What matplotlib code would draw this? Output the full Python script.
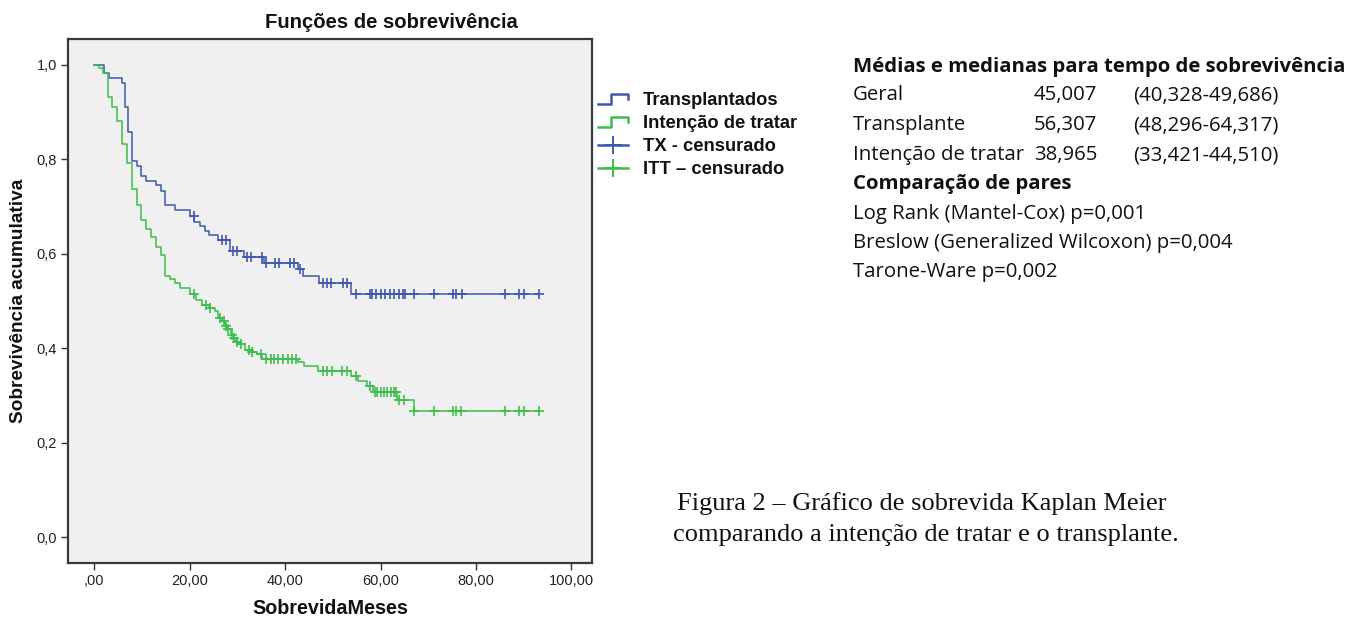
import numpy as np
import matplotlib
matplotlib.use("Agg")
import matplotlib.pyplot as plt
from matplotlib.lines import Line2D
from matplotlib.legend_handler import HandlerBase

plt.rcParams["font.family"] = ["Liberation Sans", "DejaVu Sans"]

# ---------------- data ----------------
tx_times = [0, 1.97, 3.04, 5.73, 6.44, 7.15, 8.0, 8.9, 9.9, 10.8, 12.95, 14.0, 14.9, 17.0,
            20.0, 21.0, 22.1, 23.2, 24.1, 26.0, 28.5, 31.3, 35.6, 42.6, 43.7, 47.1, 53.9]
tx_surv = [1.0, 0.983, 0.972, 0.961, 0.912, 0.857, 0.796, 0.785, 0.765, 0.754, 0.745, 0.734,
           0.703, 0.692, 0.681, 0.668, 0.659, 0.648, 0.639, 0.629, 0.606, 0.594, 0.581, 0.567,
           0.553, 0.539, 0.515]
tx_censored = [20.8, 26.7, 27.6, 29.0, 30.0, 32.0, 32.9, 35.1, 35.9, 37.9, 38.8, 41.0, 41.9,
               43.1, 47.9, 48.8, 49.7, 52.2, 53.0, 54.9, 57.8, 58.2, 59.1, 60.1, 61.0, 61.9,
               62.9, 63.9, 64.6, 65.1, 67.0, 71.1, 75.2, 75.9, 77.0, 86.1, 89.0, 90.0, 93.2]

itt_times = [0, 0.92, 1.8, 2.9, 3.75, 4.8, 5.75, 6.95, 8.0, 8.9, 9.9, 10.8, 11.9, 12.95, 14.0,
             14.8, 15.9, 16.9, 17.9, 20.0, 21.4, 22.5, 24.0, 25.3, 26.0, 26.8, 27.4, 27.9,
             28.6, 29.1, 29.6, 30.4, 31.5, 32.8, 34.0, 35.2, 42.6, 44.0, 46.9, 53.9, 55.3,
             57.1, 58.5, 63.5, 67.0]
itt_surv = [1.0, 0.994, 0.982, 0.933, 0.910, 0.882, 0.832, 0.793, 0.738, 0.703, 0.672, 0.652,
            0.636, 0.615, 0.597, 0.554, 0.547, 0.538, 0.527, 0.514, 0.503, 0.492, 0.485, 0.478,
            0.464, 0.457, 0.447, 0.440, 0.429, 0.422, 0.413, 0.408, 0.397, 0.392, 0.387, 0.377,
            0.370, 0.362, 0.352, 0.341, 0.330, 0.320, 0.307, 0.291, 0.267]
itt_censored = [20.9, 23.5, 24.3, 26.4, 27.1, 27.6, 28.1, 28.8, 29.3, 29.9, 30.8, 32.4, 33.1,
                34.9, 35.9, 37.0, 37.7, 38.4, 39.5, 40.5, 41.4, 42.2, 47.9, 48.8, 49.9, 52.0,
                52.9, 54.9, 57.7, 58.9, 59.3, 60.0, 60.7, 61.4, 62.1, 62.8, 63.3, 63.9, 64.9,
                67.0, 71.1, 75.2, 75.9, 76.9, 86.1, 88.9, 90.0, 93.2]

x_ticks = [0, 20, 40, 60, 80, 100]
x_ticklabels = [",00", "20,00", "40,00", "60,00", "80,00", "100,00"]
y_ticks = [0.0, 0.2, 0.4, 0.6, 0.8, 1.0]
y_ticklabels = ["0,0", "0,2", "0,4", "0,6", "0,8", "1,0"]

legend_labels = ["Transplantados", "Intenção de tratar", "TX - censurado", "ITT – censurado"]

table_header = "Médias e medianas para tempo de sobrevivência"
table_rows = ["Geral", "Transplante", "Intenção de tratar"]
table_means = ["45,007", "56,307", "38,965"]
table_ci = ["(40,328-49,686)", "(48,296-64,317)", "(33,421-44,510)"]
comp_header = "Comparação de pares"
comp_rows = ["Log Rank (Mantel-Cox) p=0,001",
             "Breslow (Generalized Wilcoxon) p=0,004",
             "Tarone-Ware p=0,002"]
caption = ["Figura 2 – Gráfico de sobrevida Kaplan Meier",
           "comparando a intenção de tratar e o transplante."]

BLUE = "#3E58AC"
GREEN = "#3CBE4A"
TXT = "#111111"

# ---------------- figure ----------------
W, H = 1354, 617
fig = plt.figure(figsize=(W / 100, H / 100), dpi=100)
fig.patch.set_facecolor("white")


def fx(px):
    return px / W


def fy(py):
    return 1 - py / H


AX_L, AX_R, AX_T, AX_B = 68, 592, 39, 563
ax = fig.add_axes([fx(AX_L), fy(AX_B), fx(AX_R) - fx(AX_L), fy(AX_T) - fy(AX_B)])
ax.set_facecolor("#F0F0F0")


def km_draw(times, surv, cens, color):
    t = np.array(times)
    s = np.array(surv)
    end = max(cens)
    tt = np.append(t, end)
    ss = np.append(s, s[-1])
    ax.step(tt, ss, where="post", color=color, lw=1.1, zorder=3)
    c = np.array(cens)
    idx = np.searchsorted(t, c, side="right") - 1
    ax.plot(c, s[idx], linestyle="none", marker="+", markersize=6.5, mew=1.2,
            color=color, zorder=4)


km_draw(tx_times, tx_surv, tx_censored, BLUE)
km_draw(itt_times, itt_surv, itt_censored, GREEN)

ax.set_xlim(-5.5, 104.3)
ax.set_ylim(-0.055, 1.055)
ax.set_xticks(x_ticks)
ax.set_xticklabels(x_ticklabels)
ax.set_yticks(y_ticks)
ax.set_yticklabels(y_ticklabels)
ax.tick_params(axis="both", direction="out", length=5, width=1, color="#333333",
               labelsize=10.5, labelcolor="#222222", pad=3)
for sp in ax.spines.values():
    sp.set_color("#3a3a3a")
    sp.set_linewidth(1.6)

# title is centred over the chart + legend block (SPSS style)
ax.set_title("Funções de sobrevivência", fontsize=14.6, fontweight="bold", pad=8,
             color=TXT, x=(391 - AX_L) / (AX_R - AX_L))
ax.set_xlabel("SobrevidaMeses", fontsize=14.2, fontweight="bold", labelpad=8,
              color=TXT)
ax.set_ylabel("Sobrevivência acumulativa", fontsize=13.7, fontweight="bold",
              labelpad=7, color=TXT)


# ---------------- legend ----------------
class StepHandler(HandlerBase):
    def create_artists(self, legend, orig_handle, xdescent, ydescent, width, height,
                       fontsize, trans):
        x0 = -xdescent
        y0 = -ydescent
        xs = [x0, x0 + 0.45 * width, x0 + 0.45 * width, x0 + width, x0 + width]
        ys = [y0 + 0.1 * height, y0 + 0.1 * height, y0 + 0.85 * height,
              y0 + 0.85 * height, y0 + 0.45 * height]
        ln = Line2D(xs, ys, color=orig_handle.get_color(), lw=1.8, transform=trans)
        return [ln]


h1 = Line2D([], [], color=BLUE)
h2 = Line2D([], [], color=GREEN)
h3 = Line2D([], [], color=BLUE, lw=1.8, marker="+", markersize=13, mew=1.4)
h4 = Line2D([], [], color=GREEN, lw=1.8, marker="+", markersize=13, mew=1.4)
leg_fs = 13.2
leg = fig.legend([h1, h2, h3, h4], legend_labels,
                 handler_map={h1: StepHandler(), h2: StepHandler()},
                 loc="upper left", bbox_to_anchor=(fx(598), fy(92)),
                 frameon=False, borderpad=0, borderaxespad=0,
                 handlelength=1.63, handletextpad=0.8, labelspacing=0.33,
                 prop={"family": ["Liberation Sans", "DejaVu Sans"], "weight": "bold",
                       "size": leg_fs})
for t in leg.get_texts():
    t.set_color(TXT)

# ---------------- right-side text ----------------
renderer = fig.canvas.get_renderer()


def fit_size(text, family, weight, base, target_px):
    tmp = fig.text(0, 0, text, family=family, fontsize=base, fontweight=weight)
    w = tmp.get_window_extent(renderer=renderer).width
    tmp.remove()
    return base * target_px / w


tf = ["Open Sans", "DejaVu Sans"]
tsize = fit_size(table_header, tf, "bold", 14, 495)
line_y = [67, 95, 125, 155, 184, 214, 243, 272]
fig.text(fx(853), fy(line_y[0]), table_header, family=tf, fontsize=tsize,
         fontweight="bold", va="center", ha="left", color=TXT)
for i, (r, m, c) in enumerate(zip(table_rows, table_means, table_ci)):
    y = fy(line_y[1 + i])
    fig.text(fx(853), y, r, family=tf, fontsize=tsize, va="center", ha="left", color=TXT)
    fig.text(fx(1034), y, m, family=tf, fontsize=tsize, va="center", ha="left", color=TXT)
    fig.text(fx(1133), y, c, family=tf, fontsize=tsize, va="center", ha="left", color=TXT)
fig.text(fx(853), fy(line_y[4]), comp_header, family=tf, fontsize=tsize,
         fontweight="bold", va="center", ha="left", color=TXT)
for i, r in enumerate(comp_rows):
    fig.text(fx(853), fy(line_y[5 + i]), r, family=tf, fontsize=tsize, va="center",
             ha="left", color=TXT)

# ---------------- caption ----------------
cf = ["Liberation Serif", "DejaVu Serif"]
csize = fit_size(caption[1], cf, "normal", 16, 505)
fig.text(fx(677), fy(504), caption[0], family=cf, fontsize=csize, va="center",
         ha="left", color=TXT)
fig.text(fx(673), fy(535), caption[1], family=cf, fontsize=csize, va="center",
         ha="left", color=TXT)

fig.savefig("out.png", dpi=100, facecolor="white")
